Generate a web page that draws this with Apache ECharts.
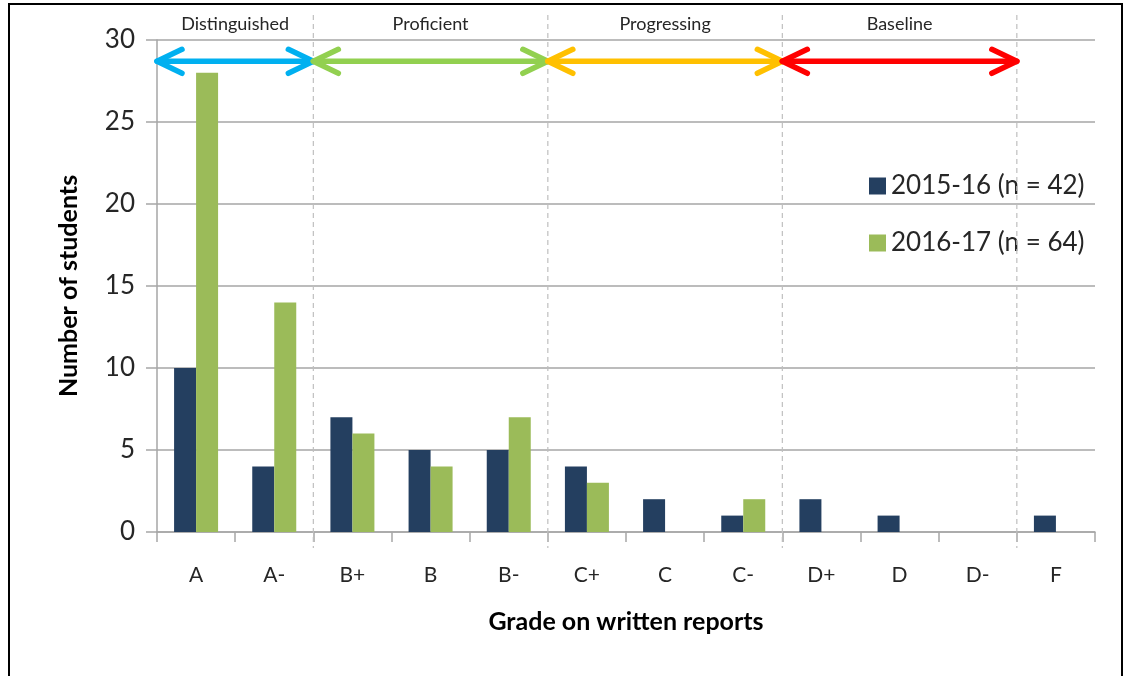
<!DOCTYPE html>
<html>
<head>
<meta charset="utf-8">
<script src="https://cdn.jsdelivr.net/npm/echarts@6/dist/echarts.min.js"></script>
<style>
  html, body { margin: 0; padding: 0; background: #fff; }
  #chart { width: 1131px; height: 676px; }
</style>
</head>
<body>
<div id="chart"></div>
<script>
  // grades on the x axis
  const grades = ['A', 'A-', 'B+', 'B', 'B-', 'C+', 'C', 'C-', 'D+', 'D', 'D-', 'F'];
  // number of students per grade
  const year1516 = [10, 4, 7, 5, 5, 4, 2, 1, 2, 1, 0, 1];
  const year1617 = [28, 14, 6, 4, 7, 3, 0, 2, 0, 0, 0, 0];
  const seriesNames = ['2015-16 (n = 42)', '2016-17 (n = 64)'];
  const yTicks = [0, 5, 10, 15, 20, 25, 30];

  // performance bands: first grade index, index where the band stops
  const bandNames = ['Distinguished', 'Proficient', 'Progressing', 'Baseline'];
  const bandStart = [0, 2, 5, 8];
  const bandEnd = [2, 5, 8, 11];
  const bandColors = ['#00B0F0', '#92D050', '#FFC000', '#FF0000'];
  const arrowLevel = 28.7;

  const font = 'Lato, "Open Sans", sans-serif';
  const textColor = '#262626';

  const bandData = bandNames.map((n, i) => [bandStart[i], bandEnd[i], arrowLevel, i]);

  const renderBand = (params, api) => {
    const bw = api.size([1, 0])[0];
    const start = api.value(0);
    const end = api.value(1);
    const idx = api.value(3);
    const y = api.coord([start, api.value(2)])[1];
    const x0 = api.coord([start, 0])[0] - bw / 2;
    const x1 = api.coord([end, 0])[0] - bw / 2;
    const yTop = api.coord([0, yTicks[yTicks.length - 1]])[1];
    const yBottom = api.coord([0, 0])[1];
    const color = bandColors[idx];
    const ah = 25, av = 12;
    const lineStyle = { stroke: color, lineWidth: 5.5, lineCap: 'round', lineJoin: 'round', fill: null };
    return {
      type: 'group',
      children: [
        {
          type: 'line',
          shape: { x1: x1, y1: yTop - 25, x2: x1, y2: yBottom + 16 },
          style: { stroke: '#BFBFBF', lineWidth: 1.2, lineDash: [5, 4] },
          z2: 1
        },
        {
          type: 'line',
          shape: { x1: x0, y1: y, x2: x1, y2: y },
          style: lineStyle,
          z2: 5
        },
        {
          type: 'polyline',
          shape: { points: [[x0 + ah, y - av], [x0, y], [x0 + ah, y + av]] },
          style: lineStyle,
          z2: 5
        },
        {
          type: 'polyline',
          shape: { points: [[x1 - ah, y - av], [x1, y], [x1 - ah, y + av]] },
          style: lineStyle,
          z2: 5
        },
        {
          type: 'text',
          x: (x0 + x1) / 2,
          y: yTop - 16,
          style: {
            text: bandNames[idx],
            fill: textColor,
            font: '18px ' + font,
            align: 'center',
            verticalAlign: 'middle'
          },
          z2: 5
        }
      ]
    };
  };

  const chart = echarts.init(document.getElementById('chart'));
  chart.setOption({
    animation: false,
    textStyle: { fontFamily: font },
    graphic: [{
      type: 'rect',
      shape: { x: 9, y: 4, width: 1113, height: 690 },
      style: { fill: null, stroke: '#000', lineWidth: 2 },
      silent: true
    }],
    grid: { left: 157, right: 36, top: 40, bottom: 144 },
    legend: {
      data: seriesNames,
      orient: 'vertical',
      left: 864,
      top: 168,
      itemWidth: 17,
      itemHeight: 17,
      itemGap: 31,
      icon: 'rect',
      textStyle: { fontSize: 26, color: textColor, fontFamily: font }
    },
    xAxis: {
      type: 'category',
      data: grades,
      name: 'Grade on written reports',
      nameLocation: 'middle',
      nameGap: 77,
      nameTextStyle: { fontSize: 25, fontWeight: 'bold', color: '#000', fontFamily: font },
      axisLine: { lineStyle: { color: '#A6A6A6', width: 1.5 } },
      axisTick: { show: true, length: 10, lineStyle: { color: '#A6A6A6', width: 1.5 } },
      axisLabel: { fontSize: 21, color: textColor, margin: 33, fontFamily: font }
    },
    yAxis: {
      type: 'value',
      min: 0,
      max: 30,
      interval: 5,
      name: 'Number of students',
      nameLocation: 'middle',
      nameGap: 76,
      nameTextStyle: { fontSize: 25, fontWeight: 'bold', color: '#000', fontFamily: font },
      axisLine: { show: true, lineStyle: { color: '#A6A6A6', width: 1.5 } },
      axisTick: { show: true, inside: false, length: 11, lineStyle: { color: '#A6A6A6', width: 1.5 } },
      axisLabel: { fontSize: 26, color: textColor, margin: 22, fontFamily: font },
      splitLine: { lineStyle: { color: '#A6A6A6', width: 1.5 } }
    },
    series: [
      {
        name: seriesNames[0],
        type: 'bar',
        data: year1516,
        barWidth: 22,
        barGap: '0%',
        itemStyle: { color: '#243F60' }
      },
      {
        name: seriesNames[1],
        type: 'bar',
        data: year1617,
        barWidth: 22,
        barGap: '0%',
        itemStyle: { color: '#9BBB59' }
      },
      {
        name: 'bands',
        type: 'custom',
        renderItem: renderBand,
        data: bandData,
        clip: false,
        silent: true,
        z: 10
      }
    ]
  });
</script>
</body>
</html>
